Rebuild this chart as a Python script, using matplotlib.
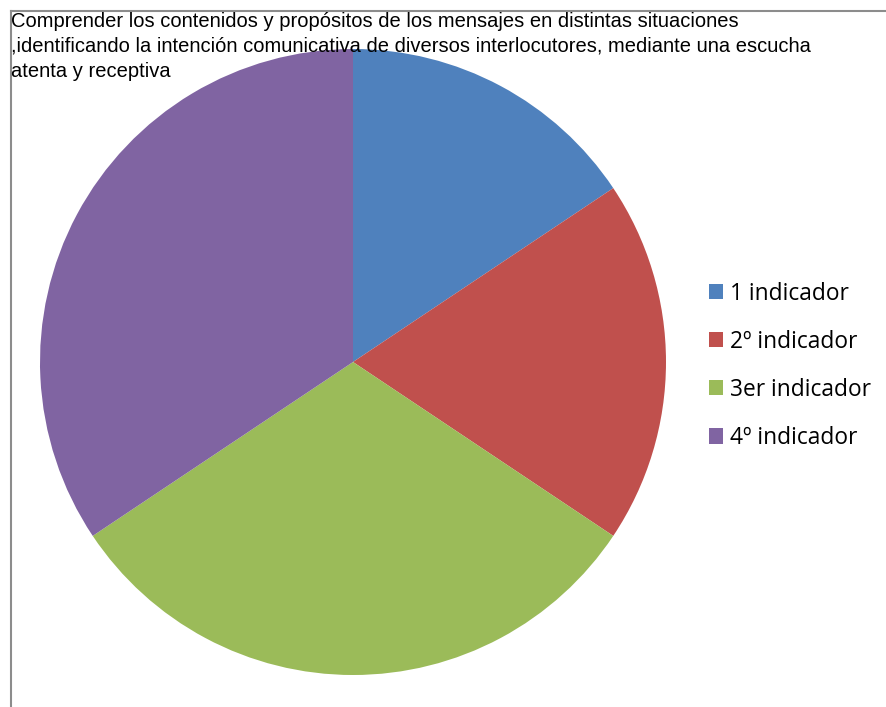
import matplotlib
matplotlib.use("Agg")
import matplotlib.pyplot as plt
from matplotlib.lines import Line2D
from matplotlib.patches import Patch

# datos del grafico
titulo = ("Comprender los contenidos y propósitos de los mensajes en distintas situaciones\n"
          ",identificando la intención comunicativa de diversos interlocutores, mediante una escucha\n"
          "atenta y receptiva")
etiquetas = ["1 indicador", "2º indicador", "3er indicador", "4º indicador"]
valores = [5, 6, 10, 11]
colores = ["#4F81BD", "#C0504D", "#9BBB59", "#8064A2"]

fig = plt.figure(figsize=(8.86, 7.07), dpi=100)

# pie centrado en (353, 362) px, radio 313 px
ax = fig.add_axes([40 / 886, 32 / 707, 626 / 886, 626 / 707])
ax.pie(valores, colors=colores, startangle=90, counterclock=False,
       wedgeprops=dict(linewidth=0))
ax.set_aspect("auto")
ax.set_xlim(-1, 1)
ax.set_ylim(-1, 1)
ax.axis("off")

# borde del area del grafico (izq y arriba)
borde = "#8c8c8c"
fig.add_artist(Line2D([10.5 / 886, 10.5 / 886], [0, 1 - 11 / 707], color=borde, lw=1.5))
fig.add_artist(Line2D([10.5 / 886, 1], [1 - 11 / 707, 1 - 11 / 707], color=borde, lw=1.5))

fig.text(11 / 886, 1 - 12 / 707, titulo, ha="left", va="top",
         fontsize=14.5, family="Liberation Sans", linespacing=1.4)

handles = [Patch(facecolor=c, edgecolor="none") for c in colores]
fig.legend(handles, etiquetas, loc="upper left", bbox_to_anchor=(688 / 886, 1 - 261 / 707),
           frameon=False, handlelength=0.65, handleheight=0.65, handletextpad=0.3,
           labelspacing=1.06, prop={"family": "Open Sans", "size": 16.4})

fig.savefig("out.png", dpi=100)
